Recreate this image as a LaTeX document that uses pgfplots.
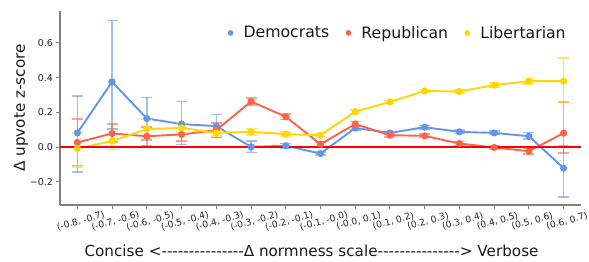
\documentclass[border=0pt]{standalone}
\usepackage{fontspec}
\setmainfont{DejaVu Sans}
\usepackage{pgfplots}
\pgfplotsset{compat=1.18}
\usepackage{pgfplotstable}

\definecolor{dem}{HTML}{6495ED}
\definecolor{rep}{HTML}{FF6347}
\definecolor{lib}{HTML}{FFD700}
\definecolor{spine}{HTML}{808080}
\definecolor{zerored}{RGB}{255,0,0}
\newcommand\dd{-\kern0pt}

\pgfplotstableread{
x y lo hi
0 0.082 -0.142 0.295
1 0.376 0.104 0.728
2 0.165 0.040 0.286
3 0.133 0.014 0.262
4 0.121 0.055 0.188
5 0.002 -0.030 0.035
6 0.008 -0.006 0.022
7 -0.037 -0.046 -0.028
8 0.110 0.100 0.120
9 0.082 0.074 0.090
10 0.115 0.105 0.125
11 0.088 0.078 0.098
12 0.082 0.072 0.092
13 0.063 0.046 0.083
14 -0.121 -0.286 0.010
}\demtab

\pgfplotstableread{
x y lo hi
0 0.027 -0.105 0.163
1 0.079 0.030 0.134
2 0.063 0.006 0.117
3 0.073 0.035 0.110
4 0.098 0.056 0.140
5 0.263 0.242 0.284
6 0.175 0.160 0.190
7 0.017 0.004 0.030
8 0.133 0.118 0.148
9 0.069 0.058 0.080
10 0.065 0.055 0.075
11 0.021 0.009 0.033
12 -0.002 -0.012 0.008
13 -0.023 -0.038 -0.008
14 0.081 -0.033 0.259
}\reptab

\pgfplotstableread{
x y lo hi
0 -0.008 -0.113 0.082
1 0.035 -0.013 0.090
2 0.104 0.050 0.161
3 0.111 0.082 0.140
4 0.082 0.064 0.100
5 0.088 0.071 0.105
6 0.075 0.063 0.087
7 0.069 0.060 0.078
8 0.204 0.194 0.214
9 0.261 0.252 0.270
10 0.323 0.314 0.332
11 0.321 0.312 0.330
12 0.357 0.346 0.368
13 0.380 0.365 0.395
14 0.380 0.261 0.513
}\libtab

\pgfplotstableread{
x y
-0.5 0
14.5 0
}\zerotab

\begin{document}
\begin{tikzpicture}
\begin{axis}[
  scale only axis,
  width=521bp, height=194bp,
  xmin=-0.5, xmax=14.5,
  ymin=-0.333, ymax=0.784,
  axis x line*=bottom, axis y line*=left,
  axis line style={spine, line width=1.2bp},
  tick style={spine, line width=1bp},
  tick align=outside,
  major tick length=3.5bp,
  xtick={0,...,14},
  xticklabels={{(-0.8, -0.7)},{(-0.7, -0.6)},{(-0.6, -0.5)},{(-0.5, -0.4)},{(-0.4, -0.3)},{(-0.3, -0.2)},{(-0.2, -0.1)},{(-0.1, -0.0)},{(-0.0, 0.1)},{(0.1, 0.2)},{(0.2, 0.3)},{(0.3, 0.4)},{(0.4, 0.5)},{(0.5, 0.6)},{(0.6, 0.7)}},
  ytick={-0.2,0,0.2,0.4,0.6},
  yticklabels={−0.2,0.0,0.2,0.4,0.6},
  yticklabel style={font=\fontsize{9.5bp}{11bp}\selectfont, text=black!85},
  xticklabel style={font=\fontsize{9.2bp}{11bp}\selectfont, text=black!85, rotate=15, anchor=center, yshift=-13bp},
  xlabel={Concise <\dd\dd\dd\dd\dd\dd\dd\dd\dd\dd\dd\dd\dd\dd\dd Δ normness scale\dd\dd\dd\dd\dd\dd\dd\dd\dd\dd\dd\dd\dd\dd\dd> Verbose},
  xlabel style={at={(axis description cs:0.5,0)}, anchor=base, yshift=-51.7bp, xshift=-9bp, font=\fontsize{15.2bp}{18bp}\selectfont, text=black!90, inner sep=0pt},
  ylabel={Δ upvote z-score},
  ylabel style={at={(axis description cs:-0.0749,0.5)}, anchor=center, font=\fontsize{15.2bp}{18bp}\selectfont, text=black!90},
  legend columns=3,
  legend style={draw=none, fill=none, font=\fontsize{15.7bp}{18bp}\selectfont, text=black!90,
    at={(axis description cs:0.971,0.887)}, anchor=east, inner sep=0pt,
    nodes={inner sep=0pt},
    /tikz/every odd column/.append style={column sep=0bp},
    /tikz/every even column/.append style={column sep=16.4bp}},
]
\addlegendimage{legend image code/.code={\fill[dem] (0bp,0bp) circle (2.6bp); \path[draw=none,fill=none] (-2.6bp,0bp) rectangle (13bp,0.1bp);}}
\addlegendimage{legend image code/.code={\fill[rep] (0bp,0bp) circle (2.6bp); \path[draw=none,fill=none] (-2.6bp,0bp) rectangle (13bp,0.1bp);}}
\addlegendimage{legend image code/.code={\fill[lib] (0bp,0bp) circle (2.6bp); \path[draw=none,fill=none] (-2.6bp,0bp) rectangle (13bp,0.1bp);}}

\addplot[dem, line width=1.9bp, mark=*, mark size=2.6bp, forget plot,
  error bars/.cd, y dir=both, y explicit,
  error bar style={line width=1.5bp, opacity=0.6},
  error mark options={rotate=90, mark size=5.5bp, line width=1.5bp, opacity=0.6}]
  table[x=x, y=y, y error plus expr=\thisrow{hi}-\thisrow{y}, y error minus expr=\thisrow{y}-\thisrow{lo}] {\demtab};
\addplot[rep, line width=1.9bp, mark=*, mark size=2.6bp, forget plot,
  error bars/.cd, y dir=both, y explicit,
  error bar style={line width=1.5bp, opacity=0.6},
  error mark options={rotate=90, mark size=5.5bp, line width=1.5bp, opacity=0.6}]
  table[x=x, y=y, y error plus expr=\thisrow{hi}-\thisrow{y}, y error minus expr=\thisrow{y}-\thisrow{lo}] {\reptab};
\addplot[lib, line width=1.9bp, mark=*, mark size=2.6bp, forget plot,
  error bars/.cd, y dir=both, y explicit,
  error bar style={line width=1.5bp, opacity=0.6},
  error mark options={rotate=90, mark size=5.5bp, line width=1.5bp, opacity=0.6}]
  table[x=x, y=y, y error plus expr=\thisrow{hi}-\thisrow{y}, y error minus expr=\thisrow{y}-\thisrow{lo}] {\libtab};
\addplot[draw=zerored, line width=1.5bp, forget plot, mark=none] table[x=x, y=y] {\zerotab};
\legend{Democrats, Republican, Libertarian}
\end{axis}
\pgfresetboundingbox
\path[use as bounding box] (current axis.south west) ++(-60bp,-57bp) rectangle ++(589bp,262bp);
\end{tikzpicture}
\end{document}
